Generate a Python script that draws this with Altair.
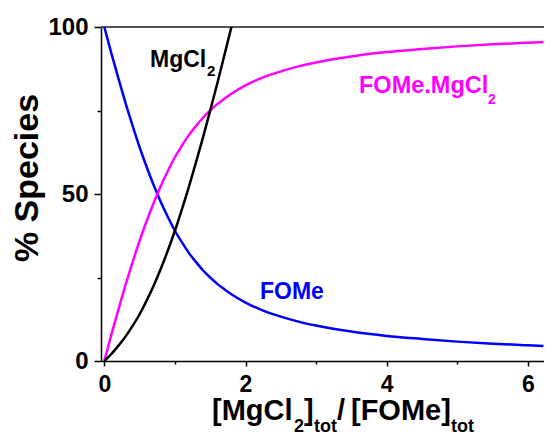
import altair as alt
import pandas as pd

# ---- data ----
ratio = [0, 0.1, 0.2, 0.3, 0.4, 0.5, 0.6, 0.7, 0.8, 0.9, 1.0, 1.1, 1.2, 1.3, 1.4,
         1.5, 1.6, 1.7, 1.8, 2.0, 2.25, 2.5, 2.75, 3.0, 3.5, 4.0, 4.5, 5.0, 5.5, 6.0, 6.22]
complex_pct = [0, 7.9, 15.4, 22.7, 29.5, 36.0, 41.9, 47.4, 52.4, 56.9, 61.0, 64.5, 67.7,
               70.4, 72.9, 75.0, 76.9, 78.5, 80.0, 82.5, 84.9, 86.7, 88.2, 89.4, 91.2,
               92.5, 93.4, 94.2, 94.8, 95.3, 95.5]
fome_pct = [100, 92.1, 84.6, 77.3, 70.5, 64.0, 58.1, 52.6, 47.6, 43.1, 39.0, 35.5, 32.3,
            29.6, 27.1, 25.0, 23.1, 21.5, 20.0, 17.5, 15.1, 13.3, 11.8, 10.6, 8.8, 7.5,
            6.6, 5.8, 5.2, 4.7, 4.5]
mgcl2_ratio = [0, 0.1, 0.2, 0.3, 0.4, 0.5, 0.6, 0.7, 0.8, 0.9, 1.0, 1.1, 1.2, 1.3, 1.4,
               1.5, 1.6, 1.7, 1.8]
mgcl2_pct = [0, 2.1, 4.6, 7.3, 10.5, 14.0, 18.1, 22.6, 27.6, 33.1, 39.0, 45.5, 52.3,
             59.6, 67.1, 75.0, 83.1, 91.5, 100]

series_names = ["FOMe", "FOMe.MgCl2", "MgCl2"]
series_colors = ["#0000FF", "#FF00FF", "#000000"]
x_ticks = [0, 1, 2, 3, 4, 5, 6]
y_ticks = [0, 25, 50, 75, 100]

rows = []
for x, v in zip(ratio, fome_pct):
    rows.append({"r": x, "pct": v, "species": "FOMe"})
for x, v in zip(ratio, complex_pct):
    rows.append({"r": x, "pct": v, "species": "FOMe.MgCl2"})
for x, v in zip(mgcl2_ratio, mgcl2_pct):
    rows.append({"r": x, "pct": v, "species": "MgCl2"})
df = pd.DataFrame(rows)

W, H = 443, 334
FONT = "Liberation Sans"

lines = alt.Chart(df).mark_line(strokeWidth=2.5, interpolate="monotone", clip=True).encode(
    x=alt.X("r:Q", scale=alt.Scale(domain=[-0.047, 6.228], nice=False, zero=False),
            axis=alt.Axis(values=x_ticks, title=None,
                          labelExpr="datum.value % 2 === 0 ? datum.label : ''",
                          tickSize={"condition": {"test": "datum.value % 2 !== 0", "value": 3}, "value": 5},
                          labelPadding=7, labelFontSize=23, labelFontWeight="bold",
                          labelFont=FONT, labelColor="black",
                          domainColor="black", domainWidth=1.5,
                          tickColor="black", tickWidth=1.5, grid=False)),
    y=alt.Y("pct:Q", scale=alt.Scale(domain=[0, 100], nice=False),
            axis=alt.Axis(values=y_ticks, title=None,
                          labelExpr="datum.value % 50 === 0 ? datum.label : ''",
                          tickSize={"condition": {"test": "datum.value % 50 !== 0", "value": 4}, "value": 7},
                          labelPadding=6, labelFontSize=24, labelFontWeight="bold",
                          labelFont=FONT, labelColor="black",
                          domainColor="black", domainWidth=1.5,
                          tickColor="black", tickWidth=1.5, grid=False)),
    color=alt.Color("species:N", scale=alt.Scale(domain=series_names, range=series_colors),
                    legend=None),
    detail="species:N",
)

top_line = alt.Chart(pd.DataFrame({"a": [0]})).mark_rule(color="#555555", strokeWidth=2).encode(
    x=alt.value(0), x2=alt.value(W), y=alt.value(0)
)


def label(text, x, y, size, color, angle=0, align="left", baseline="alphabetic"):
    return alt.Chart(pd.DataFrame({"t": [text]})).mark_text(
        font=FONT, fontWeight="bold", fontSize=size, color=color,
        align=align, baseline=baseline, angle=angle
    ).encode(x=alt.value(x), y=alt.value(y), text="t:N")


OX, OY = 101, 27  # plot origin in page pixels
annotations = [
    label("MgCl", 150 - OX, 67 - OY, 23, "black"),
    label("2", 207 - OX, 76 - OY, 15, "black"),
    label("FOMe.MgCl", 359 - OX, 93 - OY, 23.5, "#FF00FF"),
    label("2", 488 - OX, 104 - OY, 14, "#FF00FF"),
    label("FOMe", 260 - OX, 299 - OY, 23, "#0000FF"),
    # x-axis title with subscripts
    label("[MgCl", 212 - OX, 420 - OY, 29, "black"),
    label("2", 294 - OX, 432 - OY, 18, "black"),
    label("]", 304 - OX, 420 - OY, 29, "black"),
    label("tot", 314 - OX, 432 - OY, 18, "black"),
    label("/", 337 - OX, 420 - OY, 29, "black"),
    label("[FOMe]", 351 - OX, 420 - OY, 29, "black"),
    label("tot", 451 - OX, 432 - OY, 18, "black"),
    # y-axis title
    label("% Species", 28 - OX, 178 - OY, 34, "black", angle=270, align="center",
          baseline="middle"),
]

chart = alt.layer(top_line, lines, *annotations).properties(
    width=W, height=H,
    autosize=alt.AutoSizeParams(type="none"),
    padding={"left": OX - 8, "top": OY - 8, "right": 0, "bottom": 74},
).configure_view(stroke=None)

chart.save("out.html", embed_options={"renderer": "svg", "actions": False})
